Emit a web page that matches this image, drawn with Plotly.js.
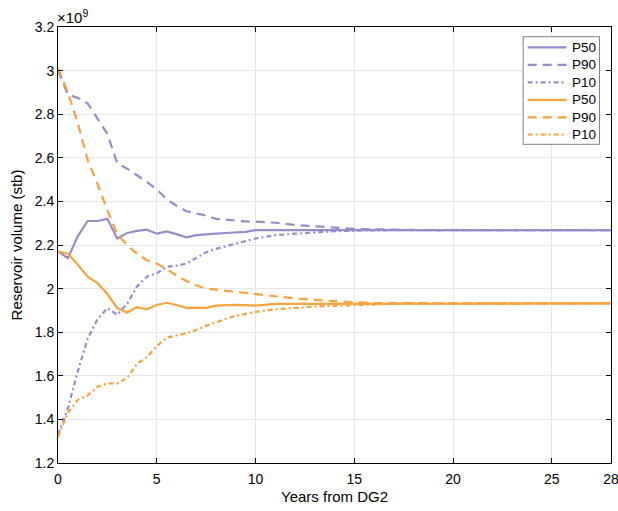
<!DOCTYPE html>
<html>
<head>
<meta charset="utf-8">
<script src="https://cdn.plot.ly/plotly-3.0.1.min.js"></script>
<style>html,body{margin:0;padding:0;background:#fff}#chart{width:618px;height:511px}</style>
</head>
<body>
<div id="chart"></div>
<script>
// Years from DG2
const years = [0,0.5,1,1.5,2,2.5,3,3.5,4,4.5,5,5.5,6,6.5,7,7.5,8,8.5,9,9.5,10,11,12,13,14,15,16,17,18,19,20,21,22,23,24,25,26,27,28];
// Reservoir volume, in units of 1e9 stb
const purpleP50 = [2.17,2.14,2.24,2.31,2.31,2.32,2.23,2.255,2.265,2.27,2.252,2.262,2.25,2.235,2.245,2.25,2.252,2.255,2.258,2.26,2.268,2.269,2.269,2.268,2.268,2.268,2.268,2.268,2.268,2.268,2.268,2.268,2.268,2.268,2.268,2.268,2.268,2.268,2.268];
const purpleP90 = [3.0,2.89,2.875,2.85,2.78,2.71,2.575,2.55,2.52,2.49,2.455,2.41,2.38,2.355,2.345,2.335,2.32,2.315,2.31,2.308,2.307,2.302,2.292,2.285,2.278,2.274,2.272,2.27,2.269,2.268,2.268,2.268,2.268,2.268,2.268,2.268,2.268,2.268,2.268];
const purpleP10 = [1.33,1.45,1.62,1.77,1.86,1.91,1.88,1.93,2.01,2.055,2.07,2.1,2.105,2.115,2.14,2.167,2.182,2.195,2.205,2.218,2.23,2.245,2.252,2.258,2.263,2.266,2.268,2.268,2.268,2.268,2.268,2.268,2.268,2.268,2.268,2.268,2.268,2.268,2.268];
const orangeP50 = [2.17,2.16,2.11,2.055,2.025,1.975,1.91,1.89,1.915,1.905,1.925,1.935,1.925,1.912,1.913,1.912,1.922,1.924,1.925,1.924,1.922,1.93,1.93,1.931,1.932,1.932,1.932,1.932,1.932,1.932,1.932,1.932,1.932,1.932,1.932,1.932,1.932,1.932,1.932];
const orangeP90 = [3.01,2.9,2.76,2.59,2.48,2.36,2.25,2.2,2.16,2.13,2.115,2.09,2.06,2.035,2.015,2.0,1.995,1.99,1.985,1.978,1.972,1.962,1.955,1.948,1.942,1.937,1.934,1.933,1.932,1.932,1.932,1.932,1.932,1.932,1.932,1.932,1.932,1.932,1.932];
const orangeP10 = [1.32,1.43,1.49,1.51,1.55,1.565,1.565,1.59,1.655,1.685,1.735,1.775,1.785,1.795,1.81,1.83,1.845,1.862,1.875,1.885,1.893,1.905,1.913,1.918,1.921,1.925,1.928,1.93,1.931,1.932,1.932,1.932,1.932,1.932,1.932,1.932,1.932,1.932,1.932];
const seriesNames = ['P50','P90','P10','P50','P90','P10'];
const xTicks = [0,5,10,15,20,25,28];
const yTicks = [1.2,1.4,1.6,1.8,2,2.2,2.4,2.6,2.8,3,3.2];

const purple = 'rgb(152,141,204)';
const orange = 'rgb(245,164,62)';
const dashDot = '5px,3px,2px,3px';
const longDash = '9px,6px';
const styles = [
  {color: purple, dash: 'solid'}, {color: purple, dash: longDash}, {color: purple, dash: dashDot},
  {color: orange, dash: 'solid'}, {color: orange, dash: longDash}, {color: orange, dash: dashDot}
];
const seriesY = [purpleP50, purpleP90, purpleP10, orangeP50, orangeP90, orangeP10];
const data = seriesY.map((y, i) => ({
  x: years, y: y, name: seriesNames[i], type: 'scatter', mode: 'lines',
  line: {color: styles[i].color, width: 2.2, dash: styles[i].dash}, showlegend: false
}));

const W = 618, H = 511, L = 57.5, R = 6.5, T = 27, B = 48;
const pw = W - L - R, ph = H - T - B;
const px = v => (v - L) / pw;          // pixel -> paper x
const py = v => 1 - (v - T) / ph;      // pixel -> paper y

const font = {family: 'Liberation Sans, Arial, sans-serif', size: 14, color: '#000'};
const axisCommon = {
  showline: true, linecolor: '#000', linewidth: 1, mirror: 'ticks',
  ticks: 'inside', ticklen: 5, tickcolor: '#000', tickwidth: 1,
  showgrid: true, gridcolor: '#e6e6e6', gridwidth: 1, zeroline: false,
  tickfont: font, ticklabeloverflow: 'allow'
};

// manual legend box (MATLAB style)
const shapes = [{
  type: 'rect', xref: 'paper', yref: 'paper',
  x0: px(523.5), x1: px(600), y0: py(36.7), y1: py(144.3),
  line: {color: '#808080', width: 1}, fillcolor: '#fff', layer: 'above'
}];
const annotations = [{
  xref: 'paper', yref: 'paper', x: 0, y: 1, xanchor: 'left', yanchor: 'bottom',
  text: '\u00d710<sup>9</sup>', showarrow: false,
  font: {family: font.family, size: 15, color: '#000'}, xshift: -3, yshift: -1
}];
const rowY = [47.3, 64.8, 82.3, 99.8, 117.3, 134.5];
seriesNames.forEach((n, i) => {
  shapes.push({
    type: 'line', xref: 'paper', yref: 'paper',
    x0: px(528), x1: px(567), y0: py(rowY[i]), y1: py(rowY[i]),
    line: {color: styles[i].color, width: 2.2, dash: styles[i].dash}, layer: 'above'
  });
  annotations.push({
    xref: 'paper', yref: 'paper', x: px(570), y: py(rowY[i]),
    xanchor: 'left', yanchor: 'middle', text: n, showarrow: false,
    font: {family: font.family, size: 13.5, color: '#000'}
  });
});

const layout = {
  width: W, height: H,
  margin: {l: L, r: R, t: T, b: B},
  paper_bgcolor: '#fff', plot_bgcolor: '#fff',
  font: font, showlegend: false,
  xaxis: Object.assign({}, axisCommon, {
    range: [0, 28], tickvals: xTicks, ticktext: xTicks.map(String), ticklabelstandoff: 3,
    title: {text: 'Years from DG2', font: {family: font.family, size: 15, color: '#000'}, standoff: 5}
  }),
  yaxis: Object.assign({}, axisCommon, {
    range: [1.2, 3.2], tickvals: yTicks, ticktext: yTicks.map(String),
    title: {text: 'Reservoir volume (stb)', font: {family: font.family, size: 15, color: '#000'}, standoff: 8}
  }),
  shapes: shapes,
  annotations: annotations
};
Plotly.newPlot('chart', data, layout, {displayModeBar: false, staticPlot: true});
</script>
</body>
</html>
